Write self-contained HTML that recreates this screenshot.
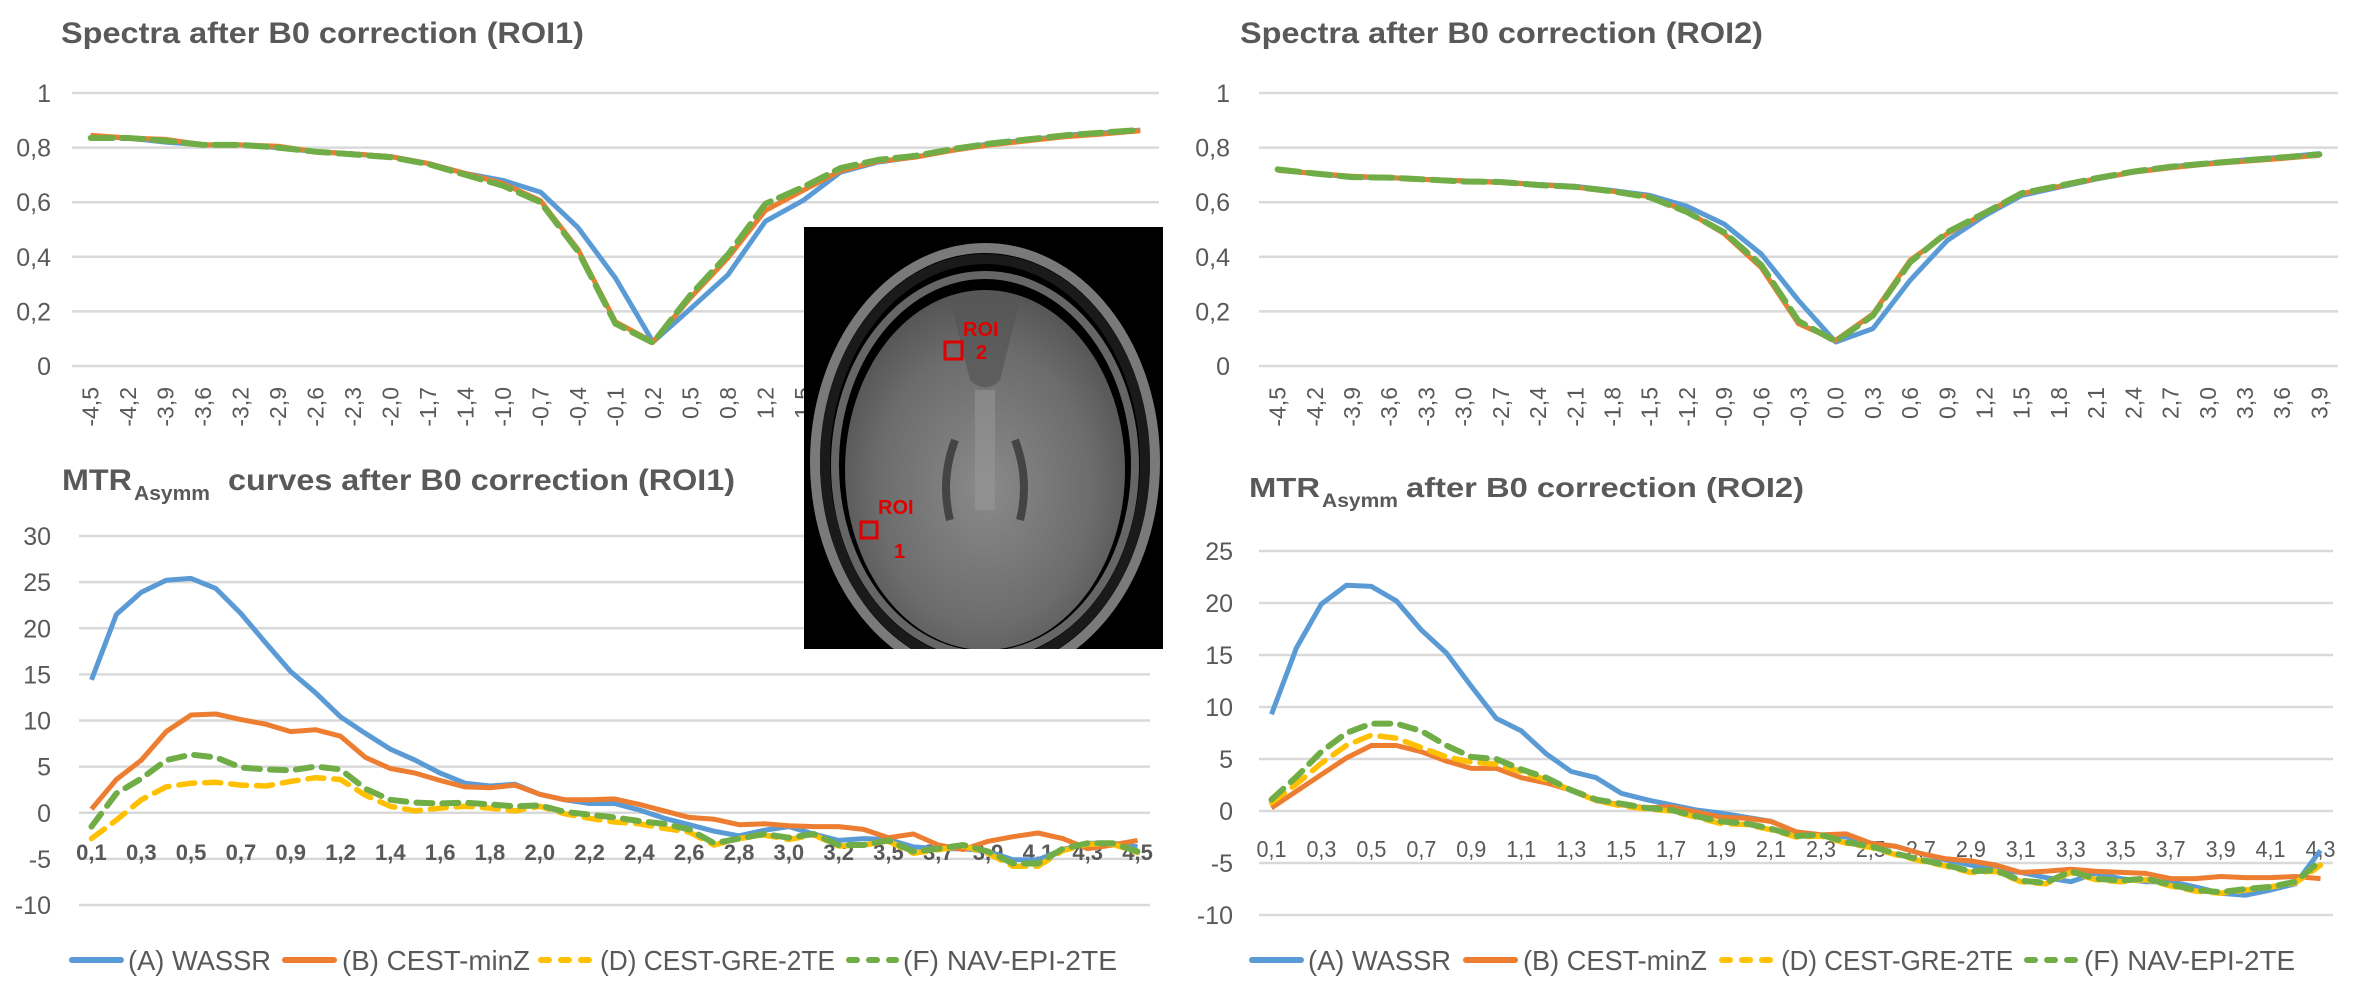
<!DOCTYPE html>
<html><head><meta charset="utf-8"><style>
html,body{margin:0;padding:0;background:#fff;}
svg{display:block;}
text{font-family:"Liberation Sans",sans-serif;fill:#595959;}
</style></head>
<body>
<svg id="fig" width="2362" height="1007" viewBox="0 0 2362 1007" xmlns="http://www.w3.org/2000/svg">
  <rect width="2362" height="1007" fill="#fff"/>
  <g id="charts"></g>
  <text x="61" y="43" font-size="30" font-weight="bold" textLength="523" lengthAdjust="spacingAndGlyphs">Spectra after B0 correction (ROI1)</text>
  <text x="1240" y="43" font-size="30" font-weight="bold" textLength="523" lengthAdjust="spacingAndGlyphs">Spectra after B0 correction (ROI2)</text>
  <g font-weight="bold">
    <text x="62" y="490" font-size="30" textLength="70" lengthAdjust="spacingAndGlyphs">MTR</text>
    <text x="134" y="500" font-size="20" textLength="76" lengthAdjust="spacingAndGlyphs">Asymm</text>
    <text x="228" y="490" font-size="30" textLength="507" lengthAdjust="spacingAndGlyphs">curves after B0 correction (ROI1)</text>
  </g>
  <g font-weight="bold">
    <text x="1249" y="497" font-size="28" textLength="71" lengthAdjust="spacingAndGlyphs">MTR</text>
    <text x="1322" y="507" font-size="19" textLength="76" lengthAdjust="spacingAndGlyphs">Asymm</text>
    <text x="1406" y="497" font-size="28" textLength="398" lengthAdjust="spacingAndGlyphs">after B0 correction (ROI2)</text>
  </g>
  <g>
    <defs>
      <radialGradient id="bg1" cx="50%" cy="55%" r="55%">
        <stop offset="0" stop-color="#8a8a8a"/><stop offset="0.7" stop-color="#6c6c6c"/><stop offset="1" stop-color="#555"/>
      </radialGradient>
      <clipPath id="imgclip"><rect x="804" y="227" width="359" height="422"/></clipPath>
    </defs>
    <rect x="804" y="227" width="359" height="422" fill="#000"/>
    <g clip-path="url(#imgclip)">
      <ellipse cx="985" cy="462" rx="170" ry="214" fill="none" stroke="#7a7a7a" stroke-width="10"/>
      <ellipse cx="985" cy="462" rx="160" ry="203" fill="none" stroke="#1a1a1a" stroke-width="10"/>
      <ellipse cx="985" cy="465" rx="150" ry="190" fill="none" stroke="#666" stroke-width="8"/>
      <ellipse cx="985" cy="470" rx="140" ry="180" fill="url(#bg1)"/>
      <path d="M950 300 Q985 290 1020 300 L1000 380 Q985 395 970 380 Z" fill="#555" opacity="0.7"/>
      <rect x="975" y="390" width="20" height="120" fill="#999" opacity="0.5"/>
      <path d="M955 440 Q940 480 950 520" stroke="#444" stroke-width="8" fill="none"/>
      <path d="M1015 440 Q1030 480 1020 520" stroke="#444" stroke-width="8" fill="none"/>
    </g>
    <rect x="945" y="342" width="17" height="17" fill="none" stroke="#e00000" stroke-width="3"/>
    <text x="963" y="336" font-size="20" font-weight="bold" style="fill:#e00000">ROI</text>
    <text x="976" y="359" font-size="20" font-weight="bold" style="fill:#e00000">2</text>
    <rect x="861" y="522" width="16" height="16" fill="none" stroke="#e00000" stroke-width="3"/>
    <text x="878" y="514" font-size="20" font-weight="bold" style="fill:#e00000">ROI</text>
    <text x="894" y="558" font-size="20" font-weight="bold" style="fill:#e00000">1</text>
  </g>
  <g id="legends"></g>
</svg>
<script>
// ---- data ----
const specLabels1 = ["-4,5","-4,2","-3,9","-3,6","-3,2","-2,9","-2,6","-2,3","-2,0","-1,7","-1,4","-1,0","-0,7","-0,4","-0,1","0,2","0,5","0,8","1,2","1,5","1,8","2,1","2,4","2,8","3,1","3,4","3,7","4,1","4,5"];
const spec1A = [0.84,0.835,0.82,0.81,0.81,0.80,0.785,0.777,0.767,0.742,0.705,0.68,0.637,0.507,0.322,0.088,0.21,0.334,0.53,0.606,0.71,0.747,0.766,0.79,0.815,0.827,0.845,0.854,0.864];
const spec1B = [0.845,0.835,0.83,0.81,0.81,0.805,0.785,0.777,0.767,0.742,0.705,0.668,0.606,0.427,0.162,0.088,0.25,0.396,0.57,0.643,0.715,0.75,0.765,0.79,0.81,0.825,0.84,0.85,0.862];
const spec1D = [0.835,0.835,0.825,0.81,0.81,0.80,0.785,0.775,0.765,0.74,0.70,0.66,0.60,0.42,0.155,0.085,0.26,0.408,0.594,0.655,0.725,0.755,0.77,0.795,0.815,0.83,0.845,0.855,0.865];
const spec1F = [0.835,0.835,0.825,0.81,0.81,0.80,0.785,0.775,0.765,0.74,0.70,0.66,0.60,0.42,0.155,0.085,0.26,0.408,0.594,0.655,0.725,0.755,0.77,0.795,0.815,0.83,0.845,0.855,0.865];

const specLabels2 = ["-4,5","-4,2","-3,9","-3,6","-3,3","-3,0","-2,7","-2,4","-2,1","-1,8","-1,5","-1,2","-0,9","-0,6","-0,3","0,0","0,3","0,6","0,9","1,2","1,5","1,8","2,1","2,4","2,7","3,0","3,3","3,6","3,9"];
const spec2A = [0.717,0.705,0.692,0.69,0.683,0.678,0.674,0.665,0.658,0.643,0.625,0.585,0.52,0.41,0.24,0.088,0.137,0.314,0.46,0.55,0.625,0.655,0.685,0.71,0.73,0.742,0.755,0.765,0.778];
const spec2B = [0.717,0.705,0.695,0.69,0.683,0.678,0.672,0.665,0.655,0.64,0.62,0.566,0.485,0.36,0.155,0.094,0.19,0.387,0.485,0.558,0.631,0.658,0.686,0.71,0.726,0.74,0.75,0.76,0.772];
const spec2D = [0.72,0.705,0.692,0.69,0.683,0.676,0.674,0.663,0.656,0.64,0.618,0.564,0.49,0.37,0.165,0.09,0.185,0.38,0.49,0.56,0.633,0.66,0.688,0.712,0.73,0.742,0.753,0.764,0.775];
const spec2F = [0.72,0.705,0.692,0.69,0.683,0.676,0.674,0.663,0.656,0.64,0.618,0.564,0.49,0.37,0.165,0.09,0.185,0.38,0.49,0.56,0.633,0.66,0.688,0.712,0.73,0.742,0.753,0.764,0.775];

const mtrLabels1 = ["0,1","","0,3","","0,5","","0,7","","0,9","","1,2","","1,4","","1,6","","1,8","","2,0","","2,2","","2,4","","2,6","","2,8","","3,0","","3,2","","3,5","","3,7","","3,9","","4,1","","4,3","","4,5"];
const mtr1A = [14.4,21.5,23.9,25.2,25.4,24.3,21.6,18.4,15.3,13.0,10.4,8.6,6.9,5.7,4.3,3.2,2.9,3.1,2.0,1.4,1.0,1.0,0.3,-0.6,-1.3,-2.0,-2.5,-1.9,-1.5,-2.3,-3.0,-2.8,-2.9,-3.7,-3.9,-3.9,-4.2,-5.1,-5.1,-4.0,-3.3,-3.3,-3.7];
const mtr1B = [0.4,3.6,5.7,8.8,10.6,10.7,10.1,9.6,8.8,9.0,8.3,6.0,4.8,4.3,3.5,2.8,2.7,3.0,2.0,1.4,1.4,1.5,0.9,0.2,-0.5,-0.7,-1.3,-1.2,-1.4,-1.5,-1.5,-1.8,-2.7,-2.3,-3.5,-4.0,-3.1,-2.6,-2.2,-2.8,-3.9,-3.5,-3.0];
const mtr1D = [-2.8,-0.8,1.4,2.8,3.2,3.3,3.0,2.9,3.4,3.8,3.6,1.9,0.7,0.2,0.5,0.7,0.5,0.2,0.7,-0.1,-0.6,-1.0,-1.2,-1.7,-2.1,-3.5,-2.8,-2.4,-2.9,-2.4,-3.6,-3.5,-3.1,-4.4,-4.0,-3.6,-4.4,-5.8,-5.8,-4.1,-3.4,-3.4,-4.3];
const mtr1F = [-1.5,2.1,3.7,5.7,6.3,6.0,4.9,4.7,4.6,5.0,4.7,2.6,1.4,1.1,1.0,1.1,0.9,0.7,0.8,0.1,-0.2,-0.5,-0.9,-1.2,-1.8,-3.3,-2.8,-2.3,-2.7,-2.3,-3.5,-3.5,-3.0,-4.2,-3.9,-3.5,-4.2,-5.5,-5.5,-3.9,-3.3,-3.3,-4.2];

const mtrLabels2 = ["0,1","","0,3","","0,5","","0,7","","0,9","","1,1","","1,3","","1,5","","1,7","","1,9","","2,1","","2,3","","2,5","","2,7","","2,9","","3,1","","3,3","","3,5","","3,7","","3,9","","4,1","","4,3"];
const mtr2A = [9.3,15.7,19.9,21.7,21.6,20.2,17.4,15.2,12.0,8.9,7.7,5.5,3.8,3.2,1.7,1.1,0.6,0.1,-0.2,-0.6,-1.0,-2.0,-2.3,-2.5,-3.1,-3.4,-4.1,-4.7,-5.2,-5.7,-5.9,-6.4,-6.8,-6.0,-6.5,-6.8,-6.8,-7.3,-7.9,-8.1,-7.6,-7.0,-3.8];
const mtr2B = [0.3,1.9,3.5,5.1,6.3,6.3,5.7,4.8,4.1,4.1,3.2,2.7,2.0,1.0,0.6,0.3,0.4,-0.1,-0.6,-0.7,-1.0,-2.0,-2.3,-2.2,-3.1,-3.4,-4.1,-4.6,-4.8,-5.2,-5.9,-5.8,-5.6,-5.8,-5.9,-6.0,-6.5,-6.5,-6.3,-6.4,-6.4,-6.3,-6.5];
const mtr2D = [0.8,2.6,4.6,6.3,7.3,7.0,6.1,5.2,4.7,4.5,3.8,3.0,2.0,1.0,0.5,0.2,0.0,-0.6,-1.2,-1.3,-1.8,-2.5,-2.4,-3.1,-3.5,-4.2,-4.8,-5.3,-5.9,-5.8,-6.8,-7.0,-5.9,-6.6,-6.8,-6.6,-7.2,-7.7,-7.9,-7.6,-7.3,-6.9,-5.2];
const mtr2F = [1.1,3.3,5.7,7.5,8.4,8.4,7.7,6.3,5.2,5.0,4.0,3.2,2.0,1.1,0.7,0.3,0.1,-0.5,-1.0,-1.2,-1.7,-2.4,-2.3,-3.0,-3.4,-4.1,-4.7,-5.2,-5.8,-5.7,-6.7,-6.9,-5.8,-6.5,-6.7,-6.5,-7.1,-7.6,-7.8,-7.5,-7.3,-6.8,-4.8];

const seriesNames = ["(A) WASSR","(B) CEST-minZ","(D) CEST-GRE-2TE","(F) NAV-EPI-2TE"];
const specTicks = [0,0.2,0.4,0.6,0.8,1];
const specTickLabels = ["0","0,2","0,4","0,6","0,8","1"];
const mtr1Ticks = [-10,-5,0,5,10,15,20,25,30];
const mtr2Ticks = [-10,-5,0,5,10,15,20,25];

// ---- styles ----
const styles = [
  {color:"#5B9BD5", w:5, dash:null},
  {color:"#ED7D31", w:5, dash:null},
  {color:"#FFC000", w:5.5, dash:"16 10"},
  {color:"#70AD47", w:6, dash:"16 10"}
];
const NS = "http://www.w3.org/2000/svg";
const root = document.getElementById("charts");
function mk(tag, attrs, parent){
  const e = document.createElementNS(NS, tag);
  for (const k in attrs) e.setAttribute(k, attrs[k]);
  parent.appendChild(e);
  return e;
}

function drawChart(cfg){
  const g = mk("g", {}, root);
  
  
  const n = cfg.labels.length;
  const cw = (cfg.right - cfg.left) / n;
  const xOf = i => cfg.left + cw * (i + 0.5);
  const yOf = v => cfg.y0 + (v - cfg.vmin) / (cfg.vmax - cfg.vmin) * (cfg.y1 - cfg.y0);
  // gridlines + y labels
  cfg.ticks.forEach((t, k) => {
    const y = yOf(t);
    const gl = mk("line", {x1:cfg.left, x2:cfg.right, y1:y, y2:y, stroke:"#D9D9D9", "stroke-width":2.5}, g);
    
    
    const tl = mk("text", {x:cfg.labelRight, y:y+9, "font-size":25, "text-anchor":"end"}, g);
    
    
    tl.textContent = cfg.tickLabels ? cfg.tickLabels[k] : String(t);
  });
  // x labels
  cfg.labels.forEach((lab, i) => {
    if (!lab) return;
    const x = xOf(i);
    let t;
    if (cfg.rotated) {
      t = mk("text", {x:0, y:0, "font-size":23, "text-anchor":"end", transform:`translate(${x+8},${cfg.xLabelY}) rotate(-90)`}, g);
    } else {
      t = mk("text", {x:x, y:cfg.xLabelY, "font-size":cfg.xBold?22:23, "font-weight":cfg.xBold?"bold":"normal", "text-anchor":"middle"}, g);
      if (!cfg.xBold) { t.setAttribute("textLength", "30"); t.setAttribute("lengthAdjust","spacingAndGlyphs"); }
    }
    
    
    t.textContent = lab;
  });
  // series
  cfg.series.forEach((vals, s) => {
    const st = styles[s];
    const d = vals.map((v, i) => (i ? "L" : "M") + xOf(i).toFixed(1) + " " + yOf(v).toFixed(1)).join(" ");
    const p = mk("path", {d:d, fill:"none", stroke:st.color, "stroke-width":st.w, "stroke-linejoin":"round", "stroke-linecap":st.dash?"round":"butt"}, g);
    if (st.dash) p.setAttribute("stroke-dasharray", cfg.dash || st.dash);
    
    
  });
}

drawChart({name:"chart-spectra-roi1", labels:specLabels1, series:[spec1A,spec1B,spec1D,spec1F],
  left:72, right:1159, y0:366, y1:93, vmin:0, vmax:1, ticks:specTicks, tickLabels:specTickLabels,
  labelRight:51, rotated:true, xLabelY:387, dash:"22 9"});
drawChart({name:"chart-spectra-roi2", labels:specLabels2, series:[spec2A,spec2B,spec2D,spec2F],
  left:1259, right:2338, y0:366, y1:93, vmin:0, vmax:1, ticks:specTicks, tickLabels:specTickLabels,
  labelRight:1230, rotated:true, xLabelY:387, dash:"22 9"});
drawChart({name:"chart-mtr-roi1", labels:mtrLabels1, series:[mtr1A,mtr1B,mtr1D,mtr1F],
  left:79, right:1150, y0:905, y1:536, vmin:-10, vmax:30, ticks:mtr1Ticks,
  labelRight:51, rotated:false, xLabelY:860, xBold:true});
drawChart({name:"chart-mtr-roi2", labels:mtrLabels2, series:[mtr2A,mtr2B,mtr2D,mtr2F],
  left:1259, right:2333, y0:915, y1:551, vmin:-10, vmax:25, ticks:mtr2Ticks,
  labelRight:1233, rotated:false, xLabelY:857, xBold:false});

// legends
const legRoot = document.getElementById("legends");
function drawLegend(name, items){
  const g = mk("g", {}, legRoot);
  
  
  items.forEach((it, s) => {
    const st = styles[s];
    const e = mk("g", {}, g);
    
    
    const l = mk("line", {x1:it[0]+3, x2:it[1]-3, y1:960, y2:960, stroke:st.color, "stroke-width":6, "stroke-linecap":"round"}, e);
    if (st.dash) l.setAttribute("stroke-dasharray", "8 12");
    const t = mk("text", {x:it[2], y:970, "font-size":28, textLength:it[3], lengthAdjust:"spacingAndGlyphs"}, e);
    t.textContent = seriesNames[s];
  });
}
drawLegend("legend-mtr-roi1", [[69,124,128,143],[282,337,342,188],[538,594,600,235],[846,899,903,214]]);
drawLegend("legend-mtr-roi2", [[1249,1304,1308,143],[1463,1518,1523,184],[1719,1775,1781,232],[2024,2080,2084,211]]);

// bring brain image & titles above charts (charts group drawn first already)
</script>
</body></html>
